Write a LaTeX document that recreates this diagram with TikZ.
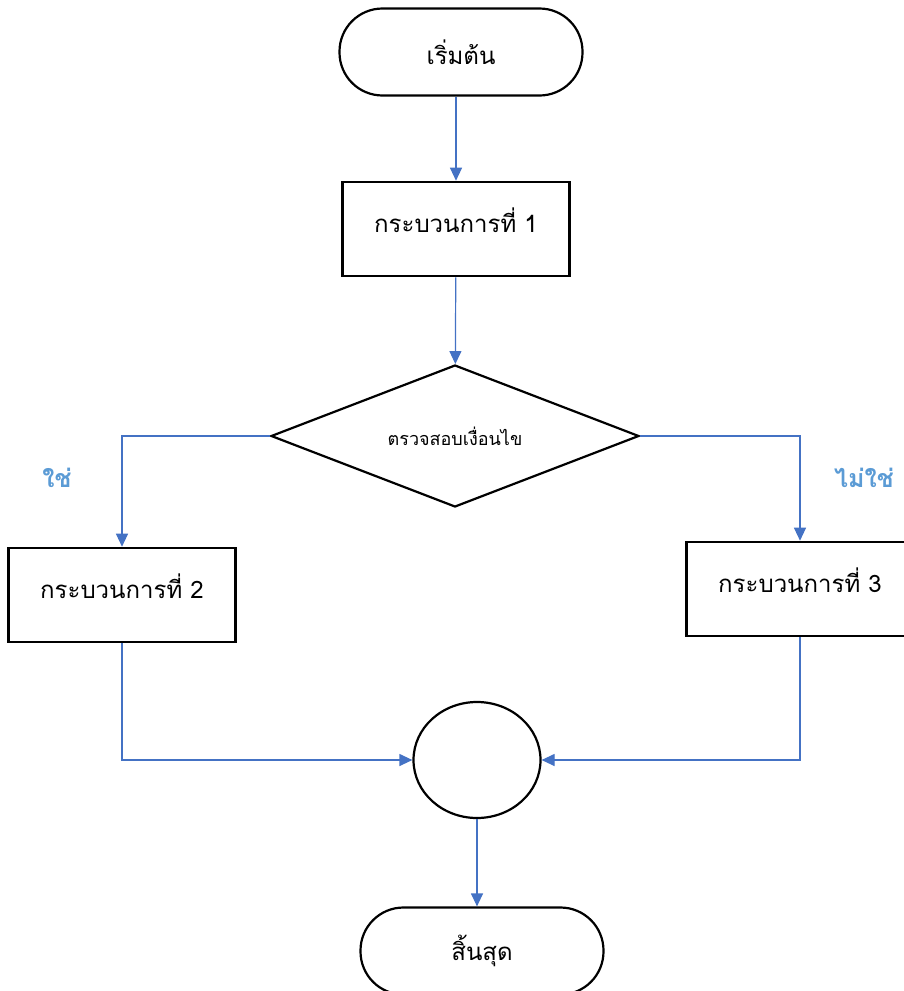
\documentclass[tikz,border=0pt]{standalone}
\usepackage{fontspec}
\newfontfamily\thaifont[Script=Thai]{Loma}
\usepackage{tikz}
\usetikzlibrary{shapes.geometric,arrows.meta}
\definecolor{linkblue}{RGB}{68,114,196}
\definecolor{labelblue}{RGB}{91,155,213}

\begin{document}
\begin{tikzpicture}[x=1pt, y=-1pt,
    font={\thaifont\fontsize{24}{28}\selectfont},
    term/.style={draw, line width=2.2pt, rounded corners=43pt, minimum width=243pt, minimum height=87pt},
    proc/.style={draw, line width=2.6pt, minimum width=227pt, minimum height=94pt, text depth=18pt},
    decide/.style={draw, diamond, line width=2.2pt, aspect=2.6, inner sep=0pt,
      minimum width=368pt, minimum height=142pt, font={\thaifont\fontsize{18}{21}\selectfont}},
    joint/.style={draw, ellipse, line width=2.2pt, minimum width=127pt, minimum height=116pt},
    answer/.style={text=labelblue, font={\thaifont\bfseries\fontsize{25}{29}\selectfont}},
    link/.style={draw=linkblue, line width=1.2pt, -{Triangle[width=12pt,length=13pt]}}
  ]
  \useasboundingbox (0,0) rectangle (904,991);

  \node[term] (start) at (461,52) {เริ่มต้น};
  \node[proc] (p1) at (456,229) {กระบวนการที่ 1};
  \node[decide] (cond) at (455,436) {ตรวจสอบเงื่อนไข};
  \node[proc] (p2) at (122,595) {กระบวนการที่ 2};
  \node[proc] (p3) at (800,589) {กระบวนการที่ 3};
  \node[joint] (join) at (477,760) {};
  \node[term] (stop) at (482,951) {สิ้นสุด};
  \node[answer] (yes) at (57,478) {ใช่};
  \node[answer] (no) at (864,478) {ไม่ใช่};

  \path[link]
  (start.south -| p1.north) -- (p1.north);
  \path[link]
  (p1) -- (cond);
  \path[link]
  (cond.west) -| (p2.north);
  \path[link]
  (cond.east) -| (p3.north);
  \path[link]
  (p2.south) |- (join.west);
  \path[link]
  (p3.south) |- (join.east);
  \path[link]
  (join.south) -- (join.south |- stop.north);
\end{tikzpicture}
\end{document}
